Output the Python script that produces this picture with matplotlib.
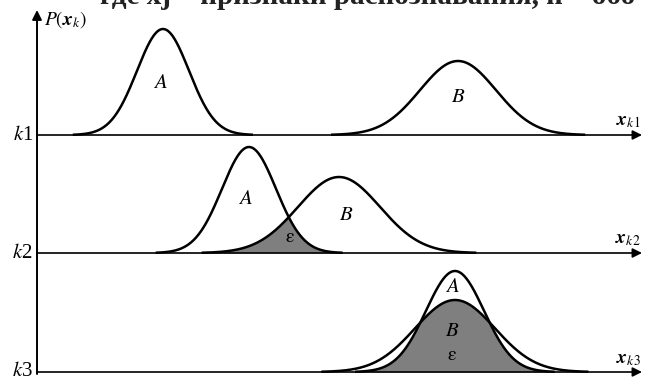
import numpy as np
import matplotlib.pyplot as plt

plt.rcParams['mathtext.fontset'] = 'stix'
plt.rcParams['font.family'] = ['Liberation Serif', 'DejaVu Serif']

# rows (baselines in pixel coords of the original picture)
row_names = [r"$k$1", r"$k$2", r"$k$3"]
row_base = [135, 253, 372]
axis_labels = [r"$\boldsymbol{x}_{k1}$", r"$\boldsymbol{x}_{k2}$", r"$\boldsymbol{x}_{k3}$"]

# class A / class B distributions per row: centre, spread, height
a_mean = [163, 249, 455]
a_sigma = [26, 27, 29]
a_height = [106, 106, 101]
b_mean = [458, 339, 455]
b_sigma = [38, 41, 40]
b_height = [74, 76, 72]

# overlap shaded?
shade = [False, True, True]

# label positions (x, height above baseline)
a_lab = [(160, 52), (245, 53), (452, 85)]
b_lab = [(458, 37), (346, 37), (452, 40)]
eps_lab = [None, (290, 15), (452, 17)]

fig = plt.figure(figsize=(6.47, 3.81), dpi=100)
ax = fig.add_axes([0, 0, 1, 1])
ax.set_xlim(0, 647)
ax.set_ylim(381, 0)
ax.axis("off")

# line of page text above the figure, cut by the top edge as in the scan
ax.text(100, 4, "где xj – признаки распознавания, n – обо", ha="left",
        va="baseline", fontsize=21, fontweight="bold", color="#222222")

x = np.linspace(40, 640, 1500)
for i in range(3):
    y0 = row_base[i]
    ga = a_height[i] * np.exp(-0.5 * ((x - a_mean[i]) / a_sigma[i]) ** 2)
    gb = b_height[i] * np.exp(-0.5 * ((x - b_mean[i]) / b_sigma[i]) ** 2)
    if shade[i]:
        ax.fill_between(x, y0, y0 - np.minimum(ga, gb), color="#7f7f7f", lw=0)
    m = ga > 0.3
    ax.plot(x[m], y0 - ga[m], color="black", lw=1.8)
    m = gb > 0.3
    ax.plot(x[m], y0 - gb[m], color="black", lw=1.8)

    ax.annotate("", xy=(642, y0), xytext=(37, y0),
                arrowprops=dict(arrowstyle="-|>", color="black", lw=1.2,
                                mutation_scale=14, shrinkA=0, shrinkB=0))
    ax.text(33, y0, row_names[i], ha="right", va="center", fontsize=15)
    ax.text(628, y0 - 13, axis_labels[i], ha="center", va="center", fontsize=14)

    ax.text(a_lab[i][0], y0 - a_lab[i][1], r"$A$", ha="center", va="center",
            fontsize=15)
    ax.text(b_lab[i][0], y0 - b_lab[i][1], r"$B$", ha="center", va="center",
            fontsize=15)
    if eps_lab[i] is not None:
        ax.text(eps_lab[i][0], y0 - eps_lab[i][1], r"$\mathrm{\varepsilon}$",
                ha="center", va="center", fontsize=14)

# vertical axis
ax.annotate("", xy=(37, 10), xytext=(37, 374),
            arrowprops=dict(arrowstyle="-|>", color="black", lw=1.4,
                            mutation_scale=14, shrinkA=0, shrinkB=0))
ax.text(44, 20, r"$P(\boldsymbol{x}_k)$", ha="left", va="center", fontsize=14)

plt.savefig("out.png", dpi=100)
